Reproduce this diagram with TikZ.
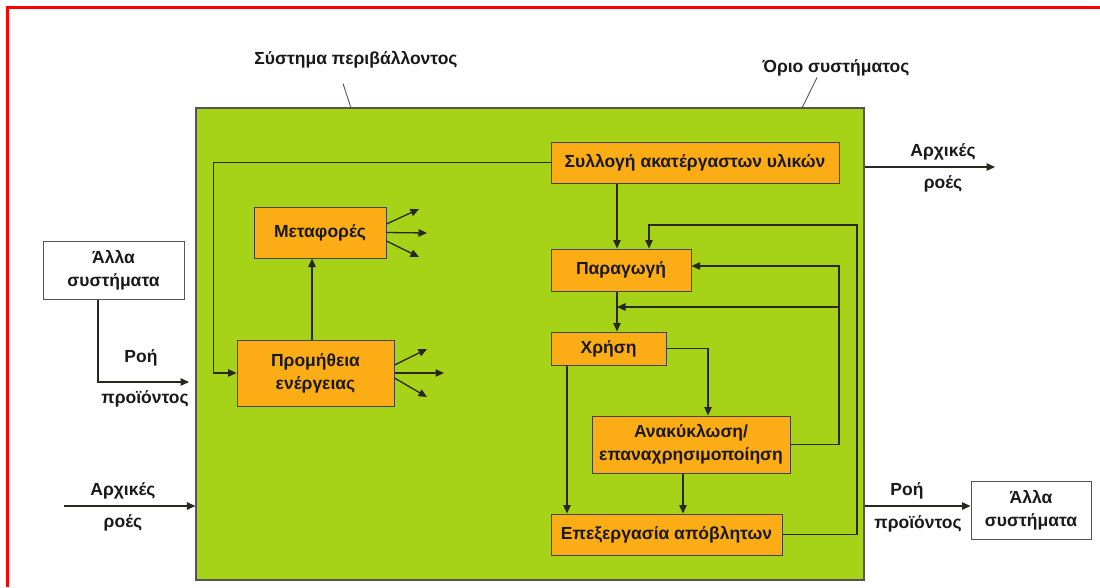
\documentclass[tikz,border=0pt]{standalone}
\usepackage{fontspec}
\setmainfont{Liberation Sans}
\usetikzlibrary{arrows.meta,calc}
\definecolor{sysgreen}{RGB}{166,211,24}
\definecolor{boxorange}{RGB}{252,172,20}
\definecolor{edgegray}{RGB}{85,85,85}
\definecolor{lineink}{RGB}{40,40,30}
\begin{document}
\begin{tikzpicture}[x=1pt,y=-1pt,
  every node/.style={font=\bfseries\fontsize{17.5}{23}\selectfont, text=black!90},
  procbox/.style={draw=edgegray!80!black, fill=boxorange, line width=1pt, inner sep=0pt, align=center},
  extbox/.style={draw=edgegray, fill=white, line width=1pt, inner sep=0pt, align=center},
  lbl/.style={inner sep=0pt, align=center},
  arr/.style={draw=lineink, line width=1.3pt, -{Triangle[length=8.5pt,width=7.5pt]}},
  lead/.style={draw=edgegray, line width=0.9pt}]
% canvas and frame
\useasboundingbox (0,0) rectangle (1100,587);
\fill[white] (0,0) rectangle (1100,587);
\draw[red, line width=2.5pt] (7.5,587) -- (7.5,7.5) -- (1100,7.5);

% system boundary
\node[draw=edgegray, fill=sysgreen, line width=1.2pt, minimum width=668pt, minimum height=472pt, inner sep=0pt] (sys) at (530,344) {};

% captions with leader lines
\node[lbl] (envlbl) at (356,60) {Σύστημα περιβάλλοντος};
\node[lbl] (bndlbl) at (836,68) {Όριο συστήματος};
\coordinate (envtip) at (351,108);
\coordinate (bndtip) at (802,108);
\draw[lead] ([xshift=-13pt,yshift=-15pt]envlbl.south) -- (envtip);
\draw[lead] ([xshift=-19pt,yshift=-1pt]bndlbl.south) -- (bndtip);

% process boxes
\node[procbox, minimum width=288pt, minimum height=41pt] (coll) at (695,162.5) {Συλλογή ακατέργαστων υλικών};
\node[procbox, minimum width=140pt, minimum height=42pt] (prod) at (621,270) {Παραγωγή};
\node[procbox, minimum width=115pt, minimum height=33pt] (use) at (608.5,348.5) {Χρήση};
\node[procbox, minimum width=198pt, minimum height=57pt] (recyc) at (691,444.5) {Ανακύκλωση/\\επαναχρησιμοποίηση};
\node[procbox, minimum width=231pt, minimum height=41pt] (waste) at (666.5,534.5) {Επεξεργασία απόβλητων};
\node[procbox, minimum width=132pt, minimum height=51pt] (trans) at (320,232.5) {Μεταφορές};
\node[procbox, minimum width=157pt, minimum height=66pt] (energy) at (315.5,373) {Προμήθεια\\ενέργειας};

% external systems
\node[extbox, minimum width=141pt, minimum height=58pt] (othL) at (113.5,270) {Άλλα\\συστήματα};
\node[extbox, minimum width=120pt, minimum height=58pt] (othR) at (1031,510) {Άλλα\\συστήματα};

% internal flows
\draw[arr] (coll.west) -- ++(-337,0) |- (energy.west);
\draw[arr] ([xshift=-4pt]prod.north |- coll.south) -- ([xshift=-4pt]prod.north);
\draw[arr] (waste.east) -| (857,225) -| ([xshift=28pt]prod.north);
\draw[arr] (recyc.east) -| (839,266) -- ([yshift=4pt]prod.east);
\coordinate (jr) at (839,307);
\coordinate (jl) at (617,307);
\draw[arr] (jr) -- (jl);
\draw[arr] ([xshift=-4pt]prod.south) -- ([xshift=-4pt]prod.south |- use.north);
\draw[arr] (use.east) -| ([xshift=17pt]recyc.north);
\draw[arr] ([xshift=-41.5pt]use.south) -- ([xshift=-41.5pt]use.south |- waste.north);
\draw[arr] ([xshift=-8pt]recyc.south) -- ([xshift=-8pt]recyc.south |- waste.north);
\draw[arr] ([xshift=-3.5pt]energy.north) -- ([xshift=-3.5pt]energy.north |- trans.south);

% outgoing fans
\coordinate (t1) at (419,209);
\coordinate (t2) at (427,233);
\coordinate (t3) at (419,257);
\draw[arr] ([yshift=8.5pt]trans.east) -- (t1);
\draw[arr] (trans.east) -- (t2);
\draw[arr] ([yshift=-8.5pt]trans.east) -- (t3);
\coordinate (e1) at (427,349);
\coordinate (e2) at (444,373);
\coordinate (e3) at (427,397);
\draw[arr] ([yshift=8pt]energy.east) -- (e1);
\draw[arr] (energy.east) -- (e2);
\draw[arr] ([yshift=-5pt]energy.east) -- (e3);

% flows across the boundary
\coordinate (pin) at (189,382);
\draw[arr] ([xshift=-15.5pt]othL.south) |- (pin);
\node[lbl] (rL) at (141,358) {Ροή};
\node[lbl] (pL) at (145,399) {προϊόντος};

\coordinate (rawin) at (64,506);
\draw[arr] (rawin) -- (sys.west |- rawin);
\node[lbl] (aL) at (123,491) {Αρχικές};
\node[lbl] (fL) at (123,523) {ροές};

\coordinate (rawout) at (995,167);
\draw[arr] (sys.east |- rawout) -- (rawout);
\node[lbl] (aR) at (943,152) {Αρχικές};
\node[lbl] (fR) at (943,184) {ροές};

\draw[arr] ([yshift=4pt]sys.east |- othR.west) -- ([yshift=4pt]othR.west);
\node[lbl] (rR) at (907,491) {Ροή};
\node[lbl] (pR) at (918,524) {προϊόντος};
\end{tikzpicture}
\end{document}
